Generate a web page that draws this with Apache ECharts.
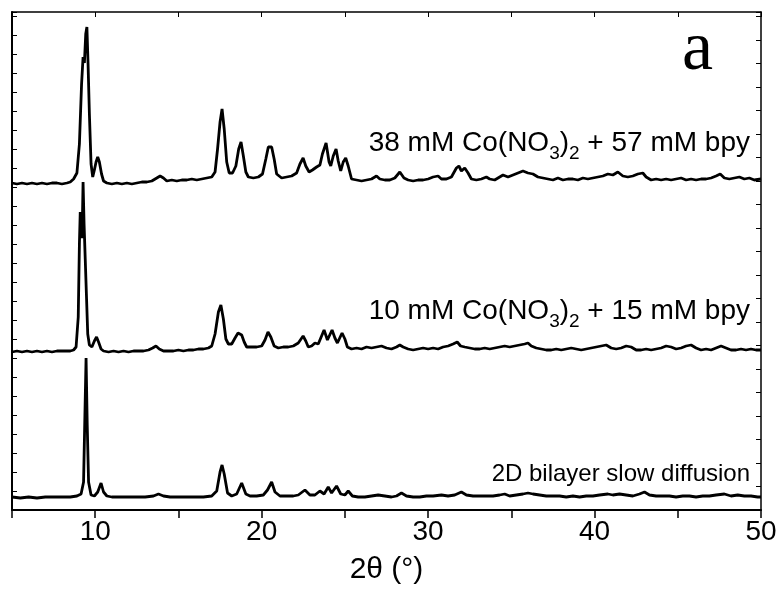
<!DOCTYPE html>
<html><head><meta charset="utf-8">
<script src="https://cdn.jsdelivr.net/npm/echarts@6/dist/echarts.min.js"></script>
<style>html,body{margin:0;padding:0;background:#fff}#c{width:780px;height:612px}</style>
</head><body><div id="c"></div>
<script>
// x tick labels (2θ, degrees)
const xTickLabels = [10, 20, 30, 40, 50];
// series names
const seriesNames = ['38 mM Co(NO3)2 + 57 mM bpy', '10 mM Co(NO3)2 + 15 mM bpy', '2D bilayer slow diffusion'];
// [2θ, intensity (arb. units, stacked)]
const trace38 = [[5.0,327],[5.3,326],[5.6,327],[5.9,326],[6.2,327],[6.5,326],[6.8,327],[7.1,326],[7.4,327],[7.7,327],[8.0,326],[8.3,327],[8.5,328],[8.7,331],[8.9,337],[9.05,366],[9.18,426],[9.27,453],[9.35,447],[9.43,476],[9.5,483],[9.57,446],[9.65,396],[9.75,346],[9.85,333],[9.95,340],[10.05,348],[10.15,353],[10.25,348],[10.38,336],[10.5,329],[10.7,327],[11.0,326],[11.3,327],[11.6,326],[11.9,327],[12.2,326],[12.5,327],[12.8,328],[13.1,328],[13.4,329],[13.7,332],[13.9,334],[14.1,332],[14.3,329],[14.6,330],[14.9,329],[15.2,330],[15.5,330],[15.8,331],[16.1,330],[16.4,331],[16.7,332],[17.0,333],[17.2,338],[17.35,361],[17.5,388],[17.62,401],[17.75,381],[17.9,348],[18.05,337],[18.25,337],[18.45,344],[18.62,361],[18.76,368],[18.9,354],[19.05,338],[19.2,333],[19.5,332],[19.8,333],[20.05,336],[20.25,351],[20.4,363],[20.6,363],[20.75,351],[20.9,336],[21.2,332],[21.5,333],[21.8,334],[22.1,337],[22.3,346],[22.49,352],[22.65,344],[22.85,338],[23.05,340],[23.3,343],[23.5,345],[23.65,356],[23.87,367],[24.05,348],[24.15,344],[24.3,354],[24.47,361],[24.6,349],[24.75,339],[24.9,348],[25.05,352],[25.2,344],[25.4,331],[25.7,330],[26.0,329],[26.3,330],[26.6,331],[26.9,334],[27.1,331],[27.4,330],[27.7,330],[28.0,332],[28.3,338],[28.55,332],[28.8,330],[29.1,329],[29.4,330],[29.7,330],[30.0,331],[30.3,333],[30.6,334],[30.8,331],[31.1,331],[31.4,333],[31.7,342],[31.85,344],[32.0,339],[32.2,342],[32.4,337],[32.6,331],[32.9,330],[33.2,331],[33.5,333],[33.7,331],[34.0,330],[34.3,333],[34.5,335],[34.8,333],[35.1,335],[35.4,337],[35.7,339],[36.0,337],[36.3,336],[36.6,333],[36.9,332],[37.2,331],[37.5,330],[37.8,332],[38.1,330],[38.4,331],[38.7,331],[39.0,330],[39.3,332],[39.6,331],[39.9,332],[40.2,333],[40.5,334],[40.8,336],[41.1,335],[41.4,338],[41.7,334],[42.0,333],[42.3,334],[42.6,336],[42.9,337],[43.1,333],[43.4,330],[43.7,331],[44.0,330],[44.3,331],[44.6,330],[44.9,331],[45.2,332],[45.5,330],[45.8,331],[46.1,330],[46.4,331],[46.7,331],[47.0,332],[47.3,334],[47.55,336],[47.8,332],[48.1,331],[48.4,332],[48.7,333],[49.0,331],[49.3,332],[49.6,330],[50.0,331]];
const trace10 = [[5.0,158],[5.3,159],[5.6,158],[5.9,159],[6.2,158],[6.5,159],[6.8,158],[7.1,159],[7.4,158],[7.7,159],[8.0,159],[8.3,159],[8.5,159],[8.7,160],[8.85,163],[8.98,193],[9.05,266],[9.1,298],[9.16,276],[9.21,272],[9.27,328],[9.33,286],[9.4,251],[9.47,216],[9.55,176],[9.65,165],[9.8,163],[9.95,169],[10.08,173],[10.2,168],[10.35,161],[10.5,159],[10.8,158],[11.1,159],[11.4,158],[11.7,159],[12.0,158],[12.3,159],[12.6,159],[12.9,159],[13.2,160],[13.45,162],[13.65,164],[13.85,161],[14.1,159],[14.4,159],[14.7,159],[15.0,160],[15.3,159],[15.6,160],[15.9,160],[16.2,161],[16.5,161],[16.8,162],[17.0,164],[17.2,176],[17.4,198],[17.55,205],[17.7,191],[17.85,171],[18.0,166],[18.2,166],[18.4,172],[18.58,177],[18.8,175],[18.95,168],[19.1,163],[19.4,163],[19.7,163],[20.0,164],[20.2,170],[20.38,178],[20.55,173],[20.75,164],[21.0,162],[21.3,163],[21.6,163],[21.9,164],[22.2,167],[22.49,174],[22.65,169],[22.8,163],[23.0,164],[23.2,167],[23.4,166],[23.55,172],[23.75,180],[23.95,170],[24.05,168],[24.23,180],[24.4,172],[24.55,167],[24.83,177],[25.0,171],[25.15,163],[25.4,161],[25.7,162],[26.0,161],[26.3,163],[26.6,162],[26.9,163],[27.2,164],[27.5,162],[27.8,161],[28.1,163],[28.3,165],[28.5,163],[28.8,161],[29.1,160],[29.4,161],[29.7,162],[30.0,161],[30.3,162],[30.6,161],[30.9,163],[31.2,164],[31.5,166],[31.75,168],[31.95,164],[32.2,163],[32.5,162],[32.8,161],[33.1,161],[33.4,162],[33.7,161],[34.0,162],[34.3,163],[34.6,164],[34.9,163],[35.2,164],[35.5,165],[35.8,166],[36.0,167],[36.2,164],[36.5,162],[36.8,161],[37.1,160],[37.4,160],[37.7,161],[38.0,160],[38.3,161],[38.6,162],[38.9,161],[39.2,160],[39.5,161],[39.8,162],[40.1,163],[40.4,164],[40.7,165],[41.0,162],[41.3,161],[41.6,162],[41.9,164],[42.2,163],[42.5,160],[42.8,160],[43.1,161],[43.4,160],[43.7,161],[44.0,162],[44.3,164],[44.6,163],[44.9,161],[45.2,162],[45.5,164],[45.8,165],[46.1,162],[46.4,160],[46.7,161],[47.0,160],[47.3,162],[47.6,164],[47.9,162],[48.2,160],[48.5,160],[48.8,161],[49.1,160],[49.4,161],[49.7,160],[50.0,160]];
const trace2D = [[5.0,13],[5.5,12],[6.0,13],[6.5,12],[7.0,13],[7.5,13],[8.0,13],[8.5,13],[8.9,14],[9.15,16],[9.3,28],[9.38,95],[9.45,152],[9.52,85],[9.6,28],[9.75,15],[9.95,14],[10.15,18],[10.35,27],[10.5,18],[10.7,14],[11.0,13],[11.5,13],[12.0,13],[12.5,13],[13.0,13],[13.5,14],[13.8,16],[14.1,14],[14.5,13],[15.0,13],[15.5,13],[16.0,13],[16.5,13],[17.0,14],[17.3,19],[17.5,38],[17.62,45],[17.75,36],[17.95,17],[18.2,14],[18.5,16],[18.8,27],[19.05,16],[19.3,14],[19.7,14],[20.1,15],[20.35,20],[20.6,28],[20.8,18],[21.1,14],[21.5,14],[21.9,14],[22.2,15],[22.6,20],[22.9,15],[23.2,15],[23.5,19],[23.75,16],[24.0,23],[24.2,17],[24.5,24],[24.75,16],[25.0,15],[25.2,19],[25.45,14],[25.8,13],[26.2,13],[26.6,14],[27.0,15],[27.4,14],[27.8,13],[28.1,14],[28.4,17],[28.7,14],[29.1,13],[29.5,13],[29.9,14],[30.3,14],[30.8,15],[31.2,14],[31.6,15],[32.0,18],[32.3,15],[32.7,14],[33.1,14],[33.5,14],[33.9,14],[34.3,15],[34.6,16],[34.9,14],[35.3,15],[35.7,16],[36.0,17],[36.3,16],[36.7,15],[37.1,14],[37.5,14],[37.9,14],[38.3,13],[38.7,14],[39.1,13],[39.5,14],[39.9,14],[40.3,15],[40.8,16],[41.1,15],[41.5,16],[41.9,15],[42.3,14],[42.7,16],[43.0,18],[43.3,15],[43.7,14],[44.1,14],[44.5,14],[44.9,13],[45.3,14],[45.7,14],[46.1,13],[46.5,14],[46.9,14],[47.3,15],[47.8,16],[48.2,14],[48.6,15],[49.0,14],[49.4,14],[49.8,13],[50.0,13]];

const SANS = "'Liberation Sans', Arial, sans-serif";
const chart = echarts.init(document.getElementById('c'), null, {renderer: 'canvas'});
const lineSeries = (name, data) => ({
  name, type: 'line', data, showSymbol: false, symbol: 'none', smooth: false,
  xAxisIndex: 0, yAxisIndex: 0,
  lineStyle: {color: '#000', width: 2.8}, emphasis: {disabled: true}, animation: false
});
const coLabel = (a, b) => '{m|' + a + ' mM Co(NO}{s|3}{m|)}{s|2}{m| + ' + b + ' mM bpy}';
const coRich = {
  m: {fontSize: 28, lineHeight: 40, fontFamily: SANS, fill: '#000'},
  s: {fontSize: 19, lineHeight: 12, verticalAlign: 'bottom', fontFamily: SANS, fill: '#000'}
};
chart.setOption({
  backgroundColor: '#fff',
  animation: false,
  grid: {left: 12, right: 19, top: 12, bottom: 102},
  xAxis: [{
    type: 'value', min: 5, max: 50, interval: 5, position: 'bottom',
    axisLine: {onZero: false, lineStyle: {color: '#000', width: 2}},
    axisTick: {show: true, inside: false, length: 8, lineStyle: {color: '#000', width: 1.5}},
    axisLabel: {formatter: v => xTickLabels.includes(v) ? String(v) : '', color: '#000', fontSize: 28, fontFamily: SANS, margin: 8},
    splitLine: {show: false},
    name: '2θ (°)', nameLocation: 'middle', nameGap: 45,
    nameTextStyle: {color: '#000', fontSize: 30, fontFamily: SANS}
  }, {
    type: 'value', min: 5, max: 50, interval: 5, position: 'top',
    axisLine: {onZero: false, lineStyle: {color: '#000', width: 1.5}},
    axisTick: {show: true, inside: true, length: 5, lineStyle: {color: '#000', width: 1}},
    axisLabel: {show: false}, splitLine: {show: false}
  }],
  yAxis: [{
    type: 'value', min: 0, max: 498, interval: 19, position: 'left',
    axisLine: {show: true, onZero: false, lineStyle: {color: '#000', width: 2}},
    axisTick: {show: true, inside: true, length: 5, lineStyle: {color: '#000', width: 1}},
    axisLabel: {show: false}, splitLine: {show: false}
  }, {
    type: 'value', min: 0, max: 498, interval: 23.5, position: 'right',
    axisLine: {show: true, onZero: false, lineStyle: {color: '#000', width: 1.5}},
    axisTick: {show: true, inside: true, length: 5, lineStyle: {color: '#000', width: 1}},
    axisLabel: {show: false}, splitLine: {show: false}
  }],
  series: [lineSeries(seriesNames[0], trace38), lineSeries(seriesNames[1], trace10), lineSeries(seriesNames[2], trace2D)],
  graphic: [
    {type: 'text', z: 100, style: {text: coLabel(38, 57), x: 750, y: 123, textAlign: 'right', textVerticalAlign: 'top', fill: '#000', rich: coRich}},
    {type: 'text', z: 100, style: {text: coLabel(10, 15), x: 750, y: 291, textAlign: 'right', textVerticalAlign: 'top', fill: '#000', rich: coRich}},
    {type: 'text', z: 100, style: {text: '2D bilayer slow diffusion', x: 750, y: 486, textAlign: 'right', textVerticalAlign: 'bottom', fill: '#000', fontSize: 24, fontFamily: SANS}},
    {type: 'text', z: 100, style: {text: 'a', x: 713, y: 86, textAlign: 'right', textVerticalAlign: 'bottom', fill: '#000', fontSize: 70, fontFamily: "'Liberation Serif', 'Times New Roman', serif"}}
  ]
});
</script>
</body></html>
